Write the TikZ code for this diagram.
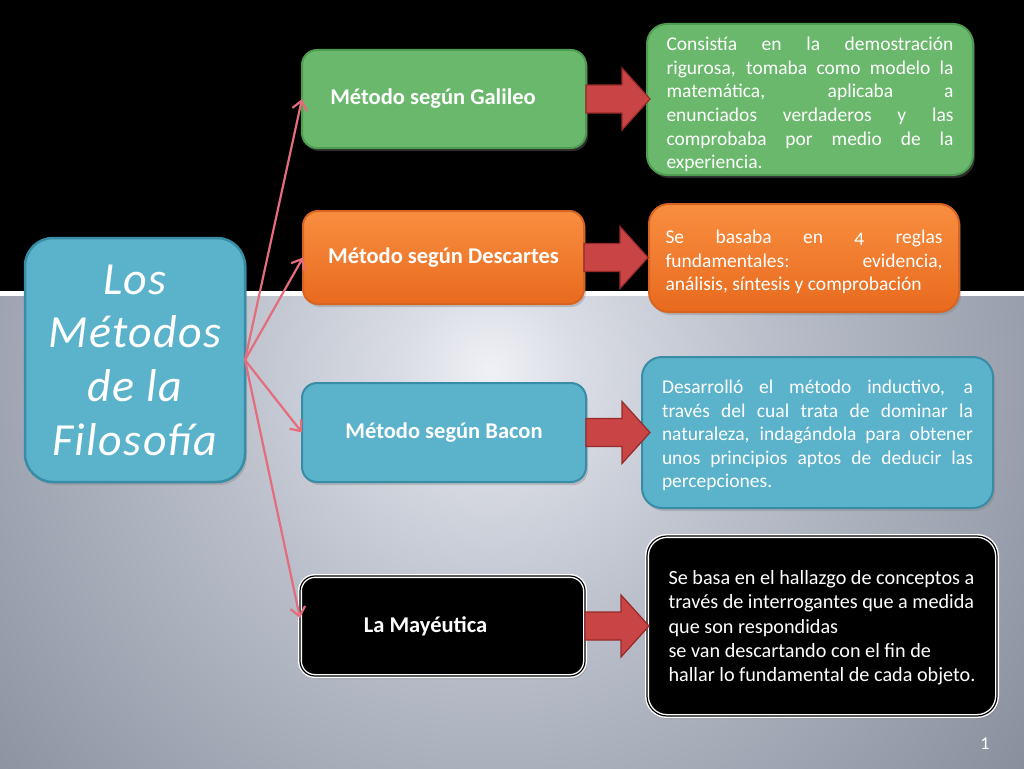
\documentclass[tikz,border=0pt]{standalone}
\usepackage{fontspec}
\setmainfont{Carlito}
\newfontfamily\bigfnt[LetterSpace=3]{Carlito}
\newfontfamily\descfnt[Numbers=OldStyle]{Carlito}
\usetikzlibrary{calc,arrows.meta,shadows}
\definecolor{bgA}{RGB}{240,241,246}
\definecolor{bgB}{RGB}{218,221,229}
\definecolor{bgC}{RGB}{184,189,201}
\definecolor{bgD}{RGB}{142,147,162}
\definecolor{bgE}{RGB}{86,90,103}
\definecolor{bgF}{RGB}{50,54,66}
\definecolor{grnF}{RGB}{106,184,108}
\definecolor{grnD}{RGB}{78,156,80}
\definecolor{orT}{RGB}{249,142,64}
\definecolor{orB}{RGB}{232,106,30}
\definecolor{orD}{RGB}{215,100,32}
\definecolor{bluF}{RGB}{91,178,203}
\definecolor{bluD}{RGB}{56,140,165}
\definecolor{redF}{RGB}{201,68,68}
\definecolor{redD}{RGB}{150,42,42}
\definecolor{pinkC}{RGB}{228,108,124}
\pgfdeclareradialshading{bgshade}{\pgfpoint{0bp}{0bp}}{color(0bp)=(bgA); color(3bp)=(bgB); color(10bp)=(bgC); color(22bp)=(bgD); color(36bp)=(bgE); color(50bp)=(bgF)}
\newcommand{\blockarrow}[1]{\draw[barrow] ($(#1)+(0,-14)$) -- ++(36,0) -- ++(0,-17) -- ++(28,31) -- ++(-28,31) -- ++(0,-17) -- ++(-36,0) -- cycle;}
\newcommand{\nohyph}{\hyphenpenalty=10000\relax\exhyphenpenalty=10000\relax}
\begin{document}
\begin{tikzpicture}[x=1pt,y=-1pt,
  shd/.style={drop shadow={opacity=0.35,shadow xshift=2pt,shadow yshift=-3pt}},
  greenbox/.style={fill=grnF,draw=grnD},
  orangebox/.style={top color=orT,bottom color=orB,draw=orD},
  bluebox/.style={fill=bluF,draw=bluD},
  blackbox/.style={fill=black,draw=white,double=black,double distance=1.2pt,line width=1.4pt},
  titlebox/.style={rounded corners=15pt,line width=2pt,inner sep=0pt,outer sep=0pt,text=white,
     font=\bfseries\fontsize{22.5}{25}\selectfont,shd},
  descbox/.style={rounded corners=20pt,line width=2pt,inner sep=0pt,outer sep=0pt,shd},
  desctext/.style={inner sep=0pt,text=white,
     font=\descfnt\fontsize{19.5}{23.6}\selectfont\nohyph,align=justify},
  mainbox/.style={rounded corners=28pt,line width=2.5pt,inner sep=0pt,outer sep=0pt,text=white,
     fill=bluF,draw=bluD,align=center,font=\bigfnt\itshape\fontsize{46}{53.7}\selectfont,shd},
  barrow/.style={fill=redF,draw=redD,line width=1.2pt,line join=miter},
  conn/.style={draw=pinkC,line width=2.2pt,-{Straight Barb[length=9pt,width=15pt]}}]
\useasboundingbox (0,0) rectangle (1024,768);
% background
\fill[black] (0,0) rectangle (1024,291);
\begin{scope}
  \clip (0,296) rectangle (1024,768);
  \fill[shading=bgshade] (490,370) circle (720pt);
\end{scope}
\fill[white] (0,291) rectangle (1024,296);
% main
\node[mainbox,minimum width=220pt,minimum height=244pt] (main) at (135,360) {Los\\Métodos\\de la\\Filosofía};
% methods
\node[titlebox,greenbox,minimum width=284pt,minimum height=98pt] (g) at (444,99) {\hspace*{-22pt}Método según Galileo};
\node[titlebox,orangebox,minimum width=281pt,minimum height=93pt] (d) at (443.5,257.5) {Método según Descartes};
\node[titlebox,bluebox,minimum width=284pt,minimum height=99pt] (b) at (444,432.5) {Método según Bacon};
\node[titlebox,blackbox,minimum width=285pt,minimum height=100pt] (m) at (442.5,626) {\hspace*{-34pt}La Mayéutica};
% description boxes
\node[descbox,greenbox,minimum width=326pt,minimum height=151pt] (gd) at (810,99.5) {};
\node[descbox,orangebox,minimum width=310pt,minimum height=108pt] (dd) at (804,258) {};
\node[descbox,bluebox,minimum width=351pt,minimum height=151pt] (bd) at (817.5,432.5) {};
\node[descbox,blackbox,minimum width=350pt,minimum height=180pt] (md) at (822,626) {};
% description texts
\node[desctext,text width=287pt] (gdt) at ($(gd.center)+(0,5)$)
  {Consistía en la demostración\linebreak rigurosa, tomaba como modelo la\linebreak matemática, aplicaba a\linebreak enunciados verdaderos y las\linebreak comprobaba por medio de la\linebreak experiencia.};
\node[desctext,text width=277pt] (ddt) at ($(dd.center)+(0,4)$)
  {Se basaba en 4 reglas\linebreak fundamentales: evidencia,\linebreak análisis, síntesis y comprobación};
\node[desctext,text width=311pt] (bdt) at ($(bd.center)+(0,3)$)
  {Desarrolló el método inductivo, a\linebreak través del cual trata de dominar la\linebreak naturaleza, indagándola para obtener\linebreak unos principios aptos de deducir las\linebreak percepciones.};
\node[desctext,align=left,font=\fontsize{20.2}{24.3}\selectfont] (mdt) at ($(md.center)+(0,2)$)
  {Se basa en el hallazgo de conceptos a\\través de interrogantes que a medida\\que son respondidas\\se van descartando con el fin de\\hallar lo fundamental de cada objeto.};
% block arrows
\blockarrow{g.east}
\blockarrow{d.east}
\blockarrow{b.east}
\blockarrow{m.east}
% connectors
\draw[conn] (main.east) -- (g.west);
\draw[conn] (main.east) -- (d.west);
\draw[conn] (main.east) -- (b.west);
\draw[conn] (main.east) -- ($(m.west)+(0,-8)$);
% page number
\node[text=white,font=\fontsize{18}{20}\selectfont] (pnum) at (985,744) {1};
\end{tikzpicture}
\end{document}
